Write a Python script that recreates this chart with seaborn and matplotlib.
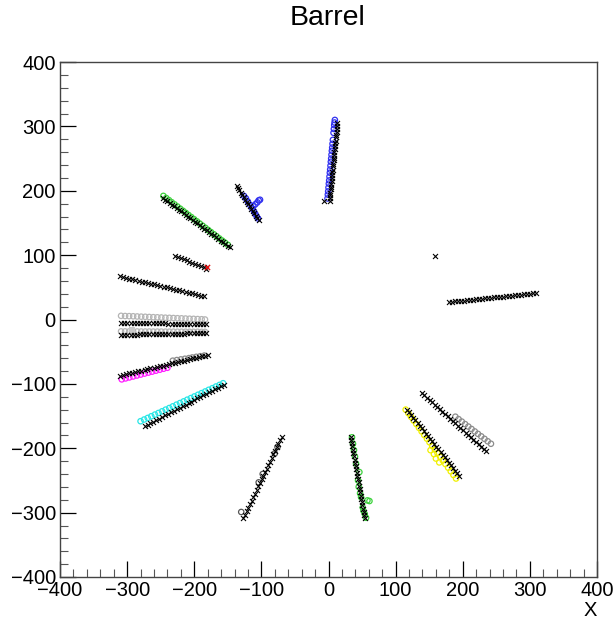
import pandas as pd
import seaborn as sns
import matplotlib.pyplot as plt
from matplotlib.ticker import MultipleLocator

# Hits (black crosses), one list pair per track
trk_a_x = [1.5, 2.0, 2.4, 2.9, 3.3, 3.7, 4.2, 4.6, 5.0, 5.5, 5.9, 6.3, 6.8, 7.2, 7.6, 8.1, 8.5, 8.9, 9.4, 9.8, 10.2, 10.7, 11.1, 11.5, 12.0, 12.4, 12.9, 13.4, -6.0]
trk_a_y = [184, 188, 193, 197, 202, 206, 211, 215, 220, 224, 229, 233, 238, 242, 247, 251, 256, 260, 265, 269, 274, 278, 283, 287, 292, 296, 301, 306, 184]

trk_b_x = [-137, -134.8, -132.6, -130.4, -128.2, -126, -123.8, -121.6, -119.4, -117.2, -115, -112.8, -110.6, -108.4, -106.2, -104]
trk_b_y = [208, 204.4, 200.8, 197.2, 193.6, 190, 186.4, 182.8, 179.2, 175.6, 172, 168.4, 164.8, 161.2, 157.6, 154]

trk_c_x = [-247, -243.6, -240.1, -236.7, -233.2, -229.8, -226.3, -222.9, -219.4, -216, -212.5, -209.1, -205.6, -202.2, -198.7,
           -195.3, -191.8, -188.4, -184.9, -181.5, -178, -174.6, -171.1, -167.7, -164.2, -160.8, -157.3, -153.9, -150.4, -147]
trk_c_y = [189, 186.3, 183.7, 181, 178.4, 175.7, 173.1, 170.4, 167.8, 165.1, 162.4, 159.8, 157.1, 154.5, 151.8,
           149.2, 146.5, 143.9, 141.2, 138.6, 135.9, 133.2, 130.6, 127.9, 125.3, 122.6, 120, 117.3, 114.7, 112]

trk_d_x = [-228, -223.8, -219.6, -215.5, -211.3, -207.1, -202.9, -198.7, -194.5, -190.4, -186.2, -182]
trk_d_y = [99, 97.2, 95.4, 93.5, 91.7, 89.9, 88.1, 86.3, 84.5, 82.6, 80.8, 79]

trk_e_x = [-311, -306.3, -301.7, -297, -292.3, -287.7, -283, -278.3, -273.7, -269, -264.3, -259.7, -255, -250.3,
           -245.7, -241, -236.3, -231.7, -227, -222.3, -217.7, -213, -208.3, -203.7, -199, -194.3, -189.7, -185]
trk_e_y = [67, 65.9, 64.7, 63.6, 62.4, 61.3, 60.1, 59, 57.8, 56.7, 55.5, 54.4, 53.2, 52.1,
           50.9, 49.8, 48.6, 47.5, 46.3, 45.2, 44, 42.9, 41.7, 40.6, 39.4, 38.3, 37.1, 36]

trk_f_x = [-309, -304.3, -299.6, -294.9, -290.2, -285.5, -280.8, -276.1, -271.4, -266.7, -262, -257.3, -252.6, -247.9,
           -243.2, -238.5, -233.8, -229.1, -224.4, -219.7, -215, -210.3, -205.6, -200.9, -196.2, -191.5, -186.8, -182]
trk_f_y = [-5.5, -5.6, -5.6, -5.7, -5.7, -5.8, -5.8, -5.9, -5.9, -6, -6, -6.1, -6.1, -6.2,
           -6.2, -6.3, -6.3, -6.4, -6.4, -6.5, -6.5, -6.6, -6.6, -6.7, -6.7, -6.8, -6.8, -6.9]

trk_g_x = trk_f_x
trk_g_y = [-24, -23.9, -23.8, -23.7, -23.6, -23.4, -23.3, -23.2, -23.1, -23, -22.9, -22.8, -22.7, -22.6,
           -22.4, -22.3, -22.2, -22.1, -22, -21.9, -21.8, -21.7, -21.6, -21.4, -21.3, -21.2, -21.1, -21]

trk_h_x = [-310, -305.5, -301, -296.6, -292.1, -287.6, -283.1, -278.6, -274.1, -269.7, -265.2, -260.7, -256.2, -251.7, -247.2,
           -242.8, -238.3, -233.8, -229.3, -224.8, -220.3, -215.9, -211.4, -206.9, -202.4, -197.9, -193.4, -189, -184.5, -180]
trk_h_y = [-87, -85.9, -84.8, -83.7, -82.6, -81.5, -80.4, -79.3, -78.2, -77.1, -76, -74.9, -73.8, -72.7, -71.6,
           -70.4, -69.3, -68.2, -67.1, -66, -64.9, -63.8, -62.7, -61.6, -60.5, -59.4, -58.3, -57.2, -56.1, -55]

trk_i_x = [-274, -269.6, -265.3, -260.9, -256.5, -252.1, -247.8, -243.4, -239, -234.7, -230.3, -225.9, -221.6, -217.2,
           -212.8, -208.4, -204.1, -199.7, -195.3, -191, -186.6, -182.2, -177.9, -173.5, -169.1, -164.7, -160.4, -156]
trk_i_y = [-166, -163.6, -161.2, -158.8, -156.4, -154, -151.6, -149.1, -146.7, -144.3, -141.9, -139.5, -137.1, -134.7,
           -132.3, -129.9, -127.5, -125.1, -122.7, -120.3, -117.9, -115.4, -113, -110.6, -108.2, -105.8, -103.4, -101]

trk_j_x = [-127, -124.5, -122, -119.6, -117.1, -114.6, -112.1, -109.7, -107.2, -104.7, -102.2, -99.7,
           -97.3, -94.8, -92.3, -89.8, -87.3, -84.9, -82.4, -79.9, -77.4, -75, -72.5, -70]
trk_j_y = [-309, -303.5, -298, -292.4, -286.9, -281.4, -275.9, -270.3, -264.8, -259.3, -253.8, -248.3,
           -242.7, -237.2, -231.7, -226.2, -220.7, -215.1, -209.6, -204.1, -198.6, -193, -187.5, -182]

trk_k_x = [33, 33.8, 34.7, 35.5, 36.4, 37.2, 38, 38.9, 39.7, 40.6, 41.4, 42.2, 43.1,
           43.9, 44.8, 45.6, 46.4, 47.3, 48.1, 49, 49.8, 50.6, 51.5, 52.3, 53.2, 54]
trk_k_y = [-182, -187.1, -192.2, -197.2, -202.3, -207.4, -212.5, -217.6, -222.6, -227.7, -232.8, -237.9, -243,
           -248, -253.1, -258.2, -263.3, -268.4, -273.4, -278.5, -283.6, -288.7, -293.8, -298.8, -303.9, -309]

trk_l_x = [117, 120.1, 123.2, 126.4, 129.5, 132.6, 135.7, 138.8, 142, 145.1, 148.2, 151.3, 154.4,
           157.6, 160.7, 163.8, 166.9, 170, 173.2, 176.3, 179.4, 182.5, 185.6, 188.8, 191.9, 195]
trk_l_y = [-140, -144.1, -148.2, -152.4, -156.5, -160.6, -164.7, -168.8, -173, -177.1, -181.2, -185.3, -189.4,
           -193.6, -197.7, -201.8, -205.9, -210, -214.2, -218.3, -222.4, -226.5, -230.6, -234.8, -238.9, -243]

trk_m_x = [139, 142.8, 146.7, 150.5, 154.4, 158.2, 162, 165.9, 169.7, 173.6, 177.4, 181.2, 185.1,
           188.9, 192.8, 196.6, 200.4, 204.3, 208.1, 212, 215.8, 219.6, 223.5, 227.3, 231.2, 235]
trk_m_y = [-114, -117.6, -121.3, -124.9, -128.6, -132.2, -135.8, -139.5, -143.1, -146.8, -150.4, -154, -157.7,
           -161.3, -165, -168.6, -172.2, -175.9, -179.5, -183.2, -186.8, -190.4, -194.1, -197.7, -201.4, -205]

trk_n_x = [179, 183.5, 188, 192.4, 196.9, 201.4, 205.9, 210.4, 214.9, 219.3, 223.8, 228.3, 232.8, 237.3, 241.8,
           246.2, 250.7, 255.2, 259.7, 264.2, 268.7, 273.1, 277.6, 282.1, 286.6, 291.1, 295.6, 300, 304.5, 309, 158]
trk_n_y = [27, 27.5, 28, 28.4, 28.9, 29.4, 29.9, 30.4, 30.9, 31.3, 31.8, 32.3, 32.8, 33.3, 33.8,
           34.2, 34.7, 35.2, 35.7, 36.2, 36.7, 37.1, 37.6, 38.1, 38.6, 39.1, 39.6, 40, 40.5, 41, 99]

red_x = [-181]
red_y = [81]

# Clusters (open circles), one list pair per colour group
blue_x = [-1.5, -1.0, -0.5, 0.0, 0.5, 1.0, 1.5, 2.0, 2.5, 3.0, 3.5, 4.0, 4.5, 5.0, 5.5, 6.0, 6.5, 7.5, 8.0, 8.5, 9.0, 9.5,
          -126, -123, -120, -117, -114, -111, -109, -107, -105, -112, -109, -106, -104, -102]
blue_y = [188, 194, 199, 205, 211, 216, 222, 228, 233, 239, 245, 250, 256, 262, 267, 273, 279, 290, 296, 302, 306, 310,
          192, 188, 183, 178, 173, 168, 164, 160, 157, 176, 179, 182, 185, 186]

green_x = [-246, -241.8, -237.7, -233.5, -229.3, -225.1, -221, -216.8, -212.6, -208.5, -204.3, -200.1, -195.9, -191.8,
           -187.6, -183.4, -179.3, -175.1, -170.9, -166.7, -162.6, -158.4, -154.2, -150,
           35, 36.5, 38, 39.5, 41, 46, 44, 45, 47, 48.5, 58, 61, 51, 52, 54, 56]
green_y = [192, 188.7, 185.4, 182.1, 178.8, 175.5, 172.2, 168.9, 165.6, 162.3, 159, 155.7, 152.4, 149,
           145.7, 142.4, 139.1, 135.8, 132.5, 129.2, 125.9, 122.6, 119.3, 116,
           -183, -193, -203, -213, -224, -237, -250, -260, -270, -276, -281, -282, -292, -297, -302, -308]

light_grey_x = [-309, -303, -297, -291, -285, -279, -273, -267, -261, -255, -249, -243, -237, -231, -225, -219, -213, -207, -201, -195, -189, -184,
                -309, -303, -297, -291, -285, -279, -273, -267, -261, -255, -249, -243, -237, -231, -225, -219, -213, -207, -201, -195, -189, -184]
light_grey_y = [5.7, 5.4, 5.2, 5, 4.7, 4.4, 4.2, 3.9, 3.6, 3.4, 3.1, 2.8, 2.6, 2.3, 2, 1.8, 1.5, 1.2, 1, 0.7, 0.4, 0,
                -18.5, -18.5, -18.6, -18.6, -18.6, -18.7, -18.7, -18.7, -18.8, -18.8, -18.8, -18.9, -18.9, -18.9, -19, -19, -19, -19.1, -19.1, -19.1, -19.2, -19.2]

grey_x = [-232, -226, -220, -214, -208, -203, -197, -191, -185,
          189, 193.8, 198.6, 203.5, 208.3, 213.1, 217.9, 222.7, 227.5, 232.4, 237.2, 242]
grey_y = [-64, -63, -62, -61, -60, -59, -58, -57, -56,
          -151, -154.8, -158.6, -162.5, -166.3, -170.1, -173.9, -177.7, -181.5, -185.4, -189.2, -193]

dark_grey_x = [-130, -104, -98, -80, -76]
dark_grey_y = [-299, -253, -240, -208, -198]

magenta_x = [-308, -302.3, -296.7, -291, -285.3, -279.7, -274, -268.3, -262.7, -257, -251.3, -245.7, -240]
magenta_y = [-93, -91.5, -90, -88.5, -87, -85.5, -84, -82.5, -81, -79.5, -78, -76.5, -75]

cyan_x = [-280, -274.7, -269.3, -264, -258.6, -253.3, -247.9, -242.6, -237.2, -231.9, -226.5, -221.2, -215.8, -210.5,
          -205.1, -199.8, -194.4, -189.1, -183.7, -178.4, -173, -167.7, -162.3, -157]
cyan_y = [-158, -155.4, -152.9, -150.3, -147.7, -145.2, -142.6, -140, -137.5, -134.9, -132.3, -129.8, -127.2, -124.6,
          -122.1, -119.5, -116.9, -114.4, -111.8, -109.2, -106.7, -104.1, -101.6, -99]

yellow_x = [115, 119, 122.9, 126.8, 130.8, 134.7, 138.7, 142.6, 146.6, 150.5, 154.5, 158.4, 162.4, 166.3,
            170.3, 174.2, 178.2, 182.1, 186.1, 190, 152, 157, 160, 165]
yellow_y = [-140, -145.6, -151.3, -156.9, -162.5, -168.2, -173.8, -179.4, -185.1, -190.7, -196.3, -202, -207.6, -213.2,
            -218.9, -224.5, -230.1, -235.8, -241.4, -247, -203, -209, -216, -222]

#---------------------------------------------------------------

hits = pd.DataFrame({
    "x": trk_a_x + trk_b_x + trk_c_x + trk_d_x + trk_e_x + trk_f_x + trk_g_x
         + trk_h_x + trk_i_x + trk_j_x + trk_k_x + trk_l_x + trk_m_x + trk_n_x,
    "y": trk_a_y + trk_b_y + trk_c_y + trk_d_y + trk_e_y + trk_f_y + trk_g_y
         + trk_h_y + trk_i_y + trk_j_y + trk_k_y + trk_l_y + trk_m_y + trk_n_y,
})

clusters = [
    (light_grey_x, light_grey_y, "#b4b4b4"),
    (grey_x, grey_y, "#8c8c8c"),
    (dark_grey_x, dark_grey_y, "#555555"),
    (blue_x, blue_y, "#3030f0"),
    (green_x, green_y, "#3cd23c"),
    (magenta_x, magenta_y, "#ff1eff"),
    (cyan_x, cyan_y, "#28e6e6"),
    (yellow_x, yellow_y, "#f0f000"),
]

plt.rcParams["font.family"] = ["Liberation Sans", "DejaVu Sans"]

fig = plt.figure(figsize=(6.16, 6.24), dpi=100)
ax = fig.add_axes([60 / 616, 1 - 577 / 624, 537 / 616, 515 / 624])

for cx, cy, col in clusters:
    sns.scatterplot(x=cx, y=cy, marker="o", s=15, color=col, facecolor="none",
                    edgecolor=col, linewidth=0.9, ax=ax, zorder=2)

# filled grey blob on the row at y ~ -18
sns.scatterplot(x=[-293], y=[-17], marker="s", s=18, color="#c8c8c8", edgecolor="none", ax=ax, zorder=2)

sns.scatterplot(data=hits, x="x", y="y", marker="x", s=13, color="black", linewidth=0.8, ax=ax, zorder=3)
sns.scatterplot(x=red_x, y=red_y, marker="x", s=14, color="#e01010", linewidth=1.0, ax=ax, zorder=4)

ax.set_xlim(-400, 400)
ax.set_ylim(-400, 400)
ax.xaxis.set_major_locator(MultipleLocator(100))
ax.yaxis.set_major_locator(MultipleLocator(100))
ax.xaxis.set_minor_locator(MultipleLocator(20))
ax.yaxis.set_minor_locator(MultipleLocator(20))
ax.tick_params(which="both", direction="in", top=False, right=False, labelsize=14.5, colors="black")
ax.tick_params(which="major", length=11.5, width=0.9, pad=3)
ax.tick_params(which="minor", length=5.8, width=0.8, color="#555555")
for sp in ax.spines.values():
    sp.set_linewidth(1.0)
    sp.set_color("#444444")

ax.set_xlabel("")
ax.set_ylabel("")
fig.text(328 / 616, 1 - 18 / 624, "Barrel", ha="center", va="center", fontsize=20.5)
fig.text(590 / 616, 1 - 611 / 624, "X", ha="center", va="center", fontsize=14.5)

fig.savefig("out.png", dpi=100)
